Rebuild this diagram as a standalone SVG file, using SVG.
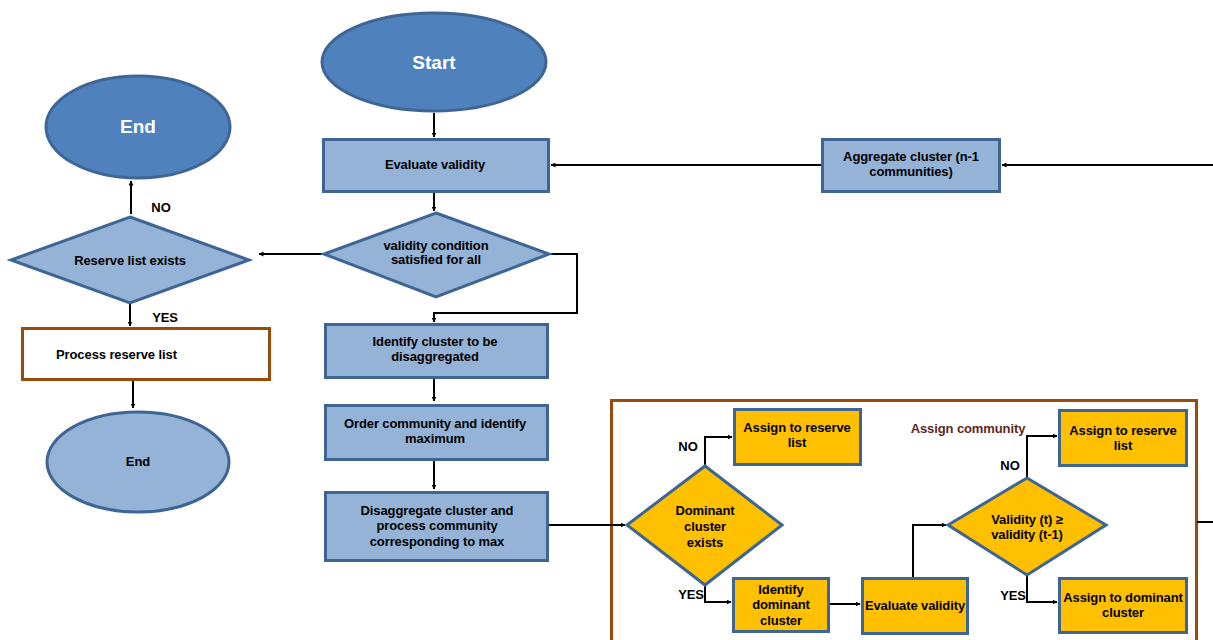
<svg xmlns="http://www.w3.org/2000/svg" width="1213" height="640" viewBox="0 0 1213 640">
<style>
.bl{fill:#95B3D7;stroke:#3E6594;stroke-width:3}
.dk{fill:#4F81BD;stroke:#3E6594;stroke-width:3}
.or{fill:#FFC000;stroke:#3E6594;stroke-width:3}
.t{font-family:"Liberation Sans",Arial,sans-serif;font-size:13px;font-weight:bold;fill:#000;text-anchor:middle;letter-spacing:-0.1px}
.w{font-family:"Liberation Sans",Arial,sans-serif;font-size:19px;font-weight:bold;fill:#fff;text-anchor:middle}
.c{fill:none;stroke:#000;stroke-width:2}
</style>
<defs>
<marker id="ah" viewBox="0 0 10 10" refX="9" refY="5" markerWidth="5" markerHeight="5" orient="auto" markerUnits="userSpaceOnUse">
<path d="M0,0 L10,5 L0,10 z" fill="#000"/>
</marker>
</defs>
<rect width="1213" height="640" fill="#fff"/>
<g id="container"><rect x="611.5" y="400.5" width="585" height="250" fill="none" stroke="#9C4A0B" stroke-width="3"/>
<text x="968" y="433" class="t" style="fill:#632523">Assign community</text></g>
<g id="connectors" class="c">
<path d="M434,113 V137" marker-end="url(#ah)"/>
<path d="M1213,165 H1002" marker-end="url(#ah)"/>
<path d="M822,165 H551" marker-end="url(#ah)"/>
<path d="M434,192 V211" marker-end="url(#ah)"/>
<path d="M324,254 H259" marker-end="url(#ah)"/>
<path d="M549,254 H577 V313 H434 V322" marker-end="url(#ah)"/>
<path d="M434,378 V401" marker-end="url(#ah)"/>
<path d="M434,460 V489" marker-end="url(#ah)"/>
<path d="M548,525 H625" marker-end="url(#ah)"/>
<path d="M131,214 V181" marker-end="url(#ah)"/>
<path d="M130,303 V326" marker-end="url(#ah)"/>
<path d="M133,380 V408" marker-end="url(#ah)"/>
<path d="M705,466 V437 H732" marker-end="url(#ah)"/>
<path d="M705,585 V602 H731" marker-end="url(#ah)"/>
<path d="M828,604 H860" marker-end="url(#ah)"/>
<path d="M913,578 V525 H946" marker-end="url(#ah)"/>
<path d="M1027,478 V436 H1057" marker-end="url(#ah)"/>
<path d="M1027,575 V602 H1057" marker-end="url(#ah)"/>
<path d="M1197,522 H1213"/>
</g>
<g id="labels">
<text x="161" y="212" class="t">NO</text>
<text x="165" y="322" class="t">YES</text>
<text x="688" y="451" class="t">NO</text>
<text x="691" y="599" class="t">YES</text>
<text x="1010" y="470" class="t">NO</text>
<text x="1013" y="600" class="t">YES</text>
</g>
<g id="start"><ellipse cx="434" cy="62" rx="112" ry="49" class="dk"/><text x="434" y="69" class="w">Start</text></g>
<g id="end-top"><ellipse cx="138" cy="127" rx="92" ry="51" class="dk"/><text x="138" y="133" class="w">End</text></g>
<g id="evaluate"><rect x="323.5" y="139.5" width="225" height="52" class="bl"/><text x="435" y="169" class="t">Evaluate validity</text></g>
<g id="aggregate"><rect x="822.5" y="139.5" width="177" height="52" class="bl"/><text x="911" y="161" class="t">Aggregate cluster (n-1</text><text x="911" y="176" class="t">communities)</text></g>
<g id="validity-cond"><polygon points="436,213 549,254 436,297 324,254" class="bl"/><text x="436" y="250" class="t">validity condition</text><text x="436" y="264" class="t">satisfied  for all</text></g>
<g id="reserve-exists"><polygon points="130,217 249,260 130,303 11,260" class="bl"/><text x="130" y="265" class="t">Reserve list exists</text></g>
<g id="process-reserve"><rect x="22.5" y="328.5" width="247" height="51" fill="#fff" stroke="#9C4A0B" stroke-width="3"/><text x="56" y="359" class="t" style="text-anchor:start">Process reserve list</text></g>
<g id="end-bottom"><ellipse cx="138" cy="462" rx="91" ry="50" class="bl"/><text x="138" y="466" class="t">End</text></g>
<g id="identify"><rect x="325.5" y="324.5" width="222" height="53" class="bl"/><text x="435" y="346" class="t">Identify cluster to be</text><text x="435" y="361" class="t">disaggregated</text></g>
<g id="order"><rect x="325.5" y="405.5" width="222" height="54" class="bl"/><text x="435" y="428" class="t">Order community  and identify</text><text x="435" y="443" class="t">maximum</text></g>
<g id="disaggregate"><rect x="325.5" y="492.5" width="222" height="68" class="bl"/><text x="437" y="515" class="t">Disaggregate cluster and</text><text x="437" y="530" class="t">process community</text><text x="437" y="546" class="t">corresponding to max</text></g>
<g id="dominant-exists"><polygon points="705,466 782,525 705,585 627,525" class="or"/><text x="705" y="515" class="t">Dominant</text><text x="705" y="531" class="t">cluster</text><text x="705" y="547" class="t">exists</text></g>
<g id="reserve1"><rect x="734.5" y="409.5" width="126" height="55" class="or"/><text x="797" y="432" class="t">Assign to reserve</text><text x="797" y="447" class="t">list</text></g>
<g id="identify-dominant"><rect x="733.5" y="578.5" width="95" height="53" class="or"/><text x="781" y="594" class="t">Identify</text><text x="781" y="609" class="t">dominant</text><text x="781" y="625" class="t">cluster</text></g>
<g id="evaluate2"><rect x="862.5" y="578.5" width="105" height="55" class="or"/><text x="915" y="610" class="t">Evaluate validity</text></g>
<g id="validity-t"><polygon points="1027,478 1106,525 1027,575 948,525" class="or"/><text x="1027" y="524" class="t">Validity (t) ≥</text><text x="1027" y="539" class="t">validity (t-1)</text></g>
<g id="reserve2"><rect x="1059.5" y="410.5" width="127" height="55" class="or"/><text x="1123" y="435" class="t">Assign to reserve</text><text x="1123" y="450" class="t">list</text></g>
<g id="assign-dominant"><rect x="1059.5" y="578.5" width="127" height="54" class="or"/><text x="1123" y="602" class="t">Assign to dominant</text><text x="1123" y="617" class="t">cluster</text></g>
</svg>
